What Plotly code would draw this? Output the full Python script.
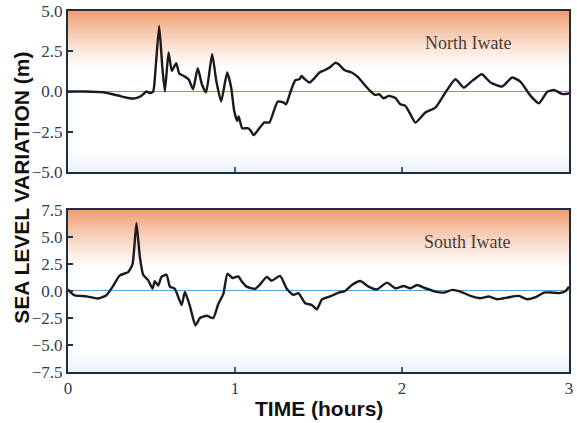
import plotly.graph_objects as go

# ---- data ----
t_north = [0, 0.10, 0.21, 0.30, 0.36, 0.40, 0.435, 0.47, 0.49, 0.51, 0.525, 0.546, 0.565, 0.58,
           0.602, 0.622, 0.648, 0.666, 0.696, 0.722, 0.749, 0.777, 0.803, 0.827, 0.863, 0.889,
           0.917, 0.953, 0.977, 0.995, 1.013, 1.022, 1.043, 1.075, 1.092, 1.112, 1.146, 1.176,
           1.206, 1.236, 1.256, 1.29, 1.306, 1.333, 1.361, 1.387, 1.398, 1.417, 1.446, 1.476,
           1.506, 1.536, 1.566, 1.60, 1.62, 1.657, 1.699, 1.735, 1.769, 1.809, 1.839, 1.864,
           1.89, 1.92, 1.96, 1.99, 2.02, 2.05, 2.08, 2.14, 2.20, 2.26, 2.32, 2.37, 2.42, 2.478,
           2.53, 2.60, 2.66, 2.71, 2.77, 2.82, 2.87, 2.91, 2.96, 3.0]
v_north = [0, 0, -0.05, -0.25, -0.4, -0.43, -0.3, 0, -0.1, 0.0, 1.5, 4.07, 1.5, 0,
           2.42, 1.28, 1.76, 1.12, 0.95, 0.76, 0.14, 1.45, 0.4, -0.05, 2.32, 0.6,
           -0.62, 1.18, 0.25, -1.2, -1.83, -1.55, -2.28, -2.28, -2.4, -2.71, -2.28, -1.92,
           -1.92, -1.1, -0.62, -0.68, -0.8, 0, 0.7, 0.77, 0.97, 0.77, 0.56, 0.83,
           1.18, 1.32, 1.49, 1.78, 1.7, 1.32, 1.18, 0.91, 0.5, 0.04, -0.21, -0.17,
           -0.43, -0.27, -0.41, -0.79, -0.89, -1.41, -1.93, -1.3, -1.0, -0.06, 0.76, 0.25, 0.66, 1.07,
           0.56, 0.31, 0.87, 0.6, -0.27, -0.73, -0.02, 0.1, -0.16, -0.12]

t_south = [0, 0.02, 0.04, 0.11, 0.18, 0.23, 0.27, 0.31, 0.36, 0.386, 0.41, 0.43, 0.45, 0.48,
           0.506, 0.52, 0.54, 0.56, 0.59, 0.61, 0.64, 0.68, 0.70, 0.73, 0.763, 0.79, 0.83, 0.87,
           0.90, 0.93, 0.955, 0.985, 1.02, 1.04, 1.07, 1.12, 1.15, 1.19, 1.22, 1.27, 1.31, 1.35,
           1.38, 1.42, 1.46, 1.49, 1.52, 1.57, 1.62, 1.66, 1.70, 1.75, 1.80, 1.85, 1.91, 1.96,
           2.01, 2.05, 2.09, 2.14, 2.20, 2.25, 2.30, 2.35, 2.41, 2.47, 2.52, 2.57, 2.64, 2.70,
           2.75, 2.80, 2.85, 2.90, 2.94, 2.98, 3.0]
v_south = [0.15, -0.2, -0.4, -0.5, -0.7, -0.4, 0.46, 1.44, 1.74, 2.45, 6.28, 3.2, 1.5, 1.0,
           0.22, 0.9, 0.5, 1.3, 1.5, 0.4, 0.2, -1.3, -0.1, -1.4, -3.2, -2.5, -2.3, -2.5,
           -1.2, -0.3, 1.6, 1.2, 1.35, 0.9, 0.4, 0.2, 0.6, 1.3, 0.95, 1.4, 0.2, -0.37,
           -0.2, -1.13, -1.3, -1.7, -0.8, -0.5, -0.15, 0, 0.55, 0.92, 0.4, 0.15, 0.77, 0.25,
           0.46, 0.25, 0.55, 0.25, -0.06, -0.15, 0.1, -0.06, -0.46, -0.67, -0.52, -0.77, -0.58, -0.46,
           -0.77, -0.58, -0.15, -0.15, -0.2, 0, 0.4]

x_ticks = [0, 1, 2, 3]
y_ticks_north = [-5, -2.5, 0, 2.5, 5]
y_ticks_south = [-7.5, -5, -2.5, 0, 2.5, 5, 7.5]
panel_labels = ["North Iwate", "South Iwate"]

LINE = "#1a1a1a"
FRAME = "#1e2e3e"
TICKFONT = dict(family="Liberation Serif, DejaVu Serif, serif", size=17, color="#2e3c4c")
LABELFONT = dict(family="Liberation Serif, serif", size=18, color="#4a3c34")
TITLEFONT = dict(family="Liberation Sans, Arial, sans-serif", size=21, color="#111111")

fig = go.Figure()
fig.add_trace(go.Scatter(x=t_north, y=v_north, mode="lines", xaxis="x", yaxis="y",
                         line=dict(color=LINE, width=2.4, shape="spline", smoothing=0.5),
                         showlegend=False, hoverinfo="skip"))
fig.add_trace(go.Scatter(x=t_south, y=v_south, mode="lines", xaxis="x2", yaxis="y2",
                         line=dict(color=LINE, width=2.4, shape="spline", smoothing=0.5),
                         showlegend=False, hoverinfo="skip"))

# gradient background bands (slightly overlapping to avoid seams)
shapes = []
N = 70
top = (239, 156, 110)
blue = (234, 243, 251)
for xr, yr in (("x domain", "y domain"), ("x2 domain", "y2 domain")):
    start = 0.63
    step = (1 - start) / N
    for i in range(N):
        y0 = start + step * i
        y1 = min(1.0, y0 + step * 1.8)
        f = ((i + 0.5) / N) ** 1.3
        c = tuple(int(round(255 + (tc - 255) * f)) for tc in top)
        shapes.append(dict(type="rect", xref=xr, yref=yr, x0=0, x1=1, y0=y0, y1=y1,
                           fillcolor="rgb(%d,%d,%d)" % c, line=dict(width=0), layer="below"))
    M = 20
    stepb = 0.13 / M
    for i in range(M):
        y1 = 0.13 - stepb * i
        y0 = max(0.0, y1 - stepb * 1.8)
        f = (i + 0.5) / M
        c = tuple(int(round(255 + (bc - 255) * f)) for bc in blue)
        shapes.append(dict(type="rect", xref=xr, yref=yr, x0=0, x1=1, y0=y0, y1=y1,
                           fillcolor="rgb(%d,%d,%d)" % c, line=dict(width=0), layer="below"))

xcommon = dict(range=[0, 3], tickvals=x_ticks, ticks="inside", ticklen=5, tickwidth=1.5,
               tickcolor="#2a6a9a", showgrid=False, zeroline=False, showline=True,
               mirror=True, linecolor=FRAME, linewidth=2, tickfont=TICKFONT,
               automargin=False, ticklabeloverflow="allow")
ycommon = dict(ticks="inside", ticklen=5, tickwidth=1.5, tickcolor=FRAME, showgrid=False,
               zeroline=True, zerolinecolor="rgb(95,160,200)", zerolinewidth=1,
               showline=True, mirror=True, linecolor=FRAME, linewidth=2,
               tickfont=TICKFONT, tickformat=".1f", automargin=False,
               ticklabeloverflow="allow")

fig.update_layout(
    width=577, height=423,
    margin=dict(l=68, r=8, t=11, b=51),
    paper_bgcolor="white", plot_bgcolor="white",
    xaxis=dict(domain=[0, 1], anchor="y", showticklabels=False, **xcommon),
    yaxis=dict(domain=[0.554, 1], anchor="x", range=[-5, 5], tickvals=y_ticks_north, **ycommon),
    xaxis2=dict(domain=[0, 1], anchor="y2", showticklabels=True, **xcommon),
    yaxis2=dict(domain=[0, 0.449], anchor="x2", range=[-7.5, 7.5], tickvals=y_ticks_south, **ycommon),
    shapes=shapes,
    annotations=[
        dict(text=panel_labels[0], xref="x domain", yref="y domain", x=0.798, y=0.80,
             xanchor="center", yanchor="middle", showarrow=False, font=LABELFONT),
        dict(text=panel_labels[1], xref="x2 domain", yref="y2 domain", x=0.796, y=0.80,
             xanchor="center", yanchor="middle", showarrow=False, font=LABELFONT),
        dict(text="<b>SEA LEVEL VARIATION (m)</b>", xref="paper", yref="paper", x=-0.092, y=0.51,
             xanchor="center", yanchor="middle", textangle=-90, showarrow=False, font=TITLEFONT),
        dict(text="<b>TIME (hours)</b>", xref="paper", yref="paper", x=0.5, y=-0.10,
             xanchor="center", yanchor="middle", showarrow=False, font=TITLEFONT),
    ],
)

# remove the browser's default 8px body margin so the figure fills the window exactly
fig.write_html("out.html", config={"displayModeBar": False},
               post_script="document.body.style.margin='0px';")
